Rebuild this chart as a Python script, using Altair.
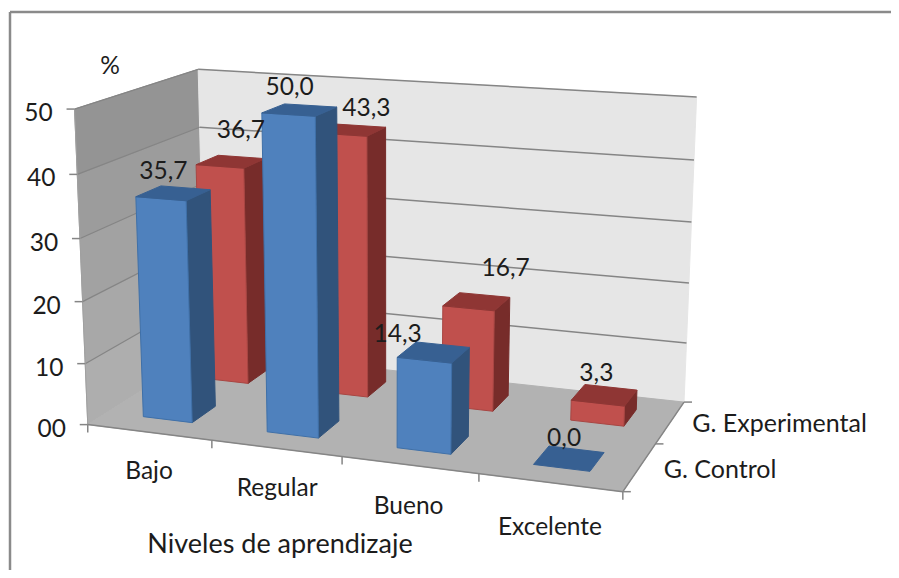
import altair as alt
import numpy as np
import pandas as pd

# ---- chart values -------------------------------------------------------
categories = ["Bajo", "Regular", "Bueno", "Excelente"]
series_names = ["G. Control", "G. Experimental"]
control = [35.7, 50.0, 14.3, 0.0]
experimental = [36.7, 43.3, 16.7, 3.3]
y_ticks = [0, 10, 20, 30, 40, 50]
y_tick_labels = ["00", "10", "20", "30", "40", "50"]
labels_control = ["35,7", "50,0", "14,3", "0,0"]
labels_experimental = ["36,7", "43,3", "16,7", "3,3"]
title = "Niveles de aprendizaje"
unit = "%"

# ---- 3-D camera, calibrated on the plot box (category, depth, value/50) --
CALIB = [
    ((0, 0, 0), (89, 424)), ((1, 0, 0), (212, 440)), ((2, 0, 0), (342, 457)),
    ((3, 0, 0), (478, 474)), ((4, 0, 0), (623, 493)), ((4, 1, 0), (684, 400.5)),
    ((0, 1, 0), (205, 352)), ((0, 0, 1), (75, 109)), ((4, 1, 1), (697, 98)),
    ((0, 1, 1), (198, 69)), ((0, 0, .2), (85, 363)), ((0, 0, .4), (82, 301)),
    ((0, 0, .6), (80, 239)), ((0, 0, .8), (77, 174)), ((4, 1, .2), (687, 342)),
    ((4, 1, .4), (689, 283)), ((4, 1, .6), (691, 222)), ((4, 1, .8), (694, 160)),
]
A, b = [], []
for (X_, Y_, Z_), (u, v) in CALIB:
    A.append([X_, Y_, Z_, 1, 0, 0, 0, 0, -u * X_, -u * Y_, -u * Z_]); b.append(u)
    A.append([0, 0, 0, 0, X_, Y_, Z_, 1, -v * X_, -v * Y_, -v * Z_]); b.append(v)
p = np.linalg.lstsq(np.array(A, float), np.array(b, float), rcond=None)[0]
P = np.append(p, 1).reshape(3, 4)


def proj(x, d, val):
    h = P @ np.array([x, d, val / 50.0, 1.0])
    return float(h[0] / h[2]), float(h[1] / h[2])


BAR_W, BAR_D = 0.4, 0.2
counter = [0]


def add_poly(rows, pts, fill, stroke):
    pid = f"{counter[0]:03d}"
    counter[0] += 1
    for k, (x, y) in enumerate(list(pts) + [pts[0]]):
        rows.append(dict(px=x, py=y, pid=pid, k=k, fill=fill, stroke=stroke))


def add_line(rows, a, b_, color, w):
    lid = f"{counter[0]:03d}"
    counter[0] += 1
    for k, (x, y) in enumerate((a, b_)):
        rows.append(dict(px=x, py=y, lid=lid, k=k, color=color, w=w))


bg_rows, bar_rows, grid_rows, axis_rows = [], [], [], []
WALL, FLOOR, GRID = "#e6e6e6", "#b2b2b2", "#858585"

# left wall in bands, back wall, floor
band_cols = ["#aeaeae", "#a8a8a8", "#a2a2a2", "#9c9c9c", "#949494"]
for i in range(5):
    v0, v1 = y_ticks[i], y_ticks[i + 1]
    add_poly(bg_rows, [proj(0, 0, v0), proj(0, 1, v0), proj(0, 1, v1), proj(0, 0, v1)], band_cols[i], band_cols[i])
add_poly(bg_rows, [proj(0, 1, 0), proj(4, 1, 0), proj(4, 1, 50), proj(0, 1, 50)], WALL, WALL)
add_poly(bg_rows, [proj(0, 0, 0), proj(4, 0, 0), proj(4, 1, 0), proj(0, 1, 0)], FLOOR, FLOOR)

# bars: back row first, so the front row covers it
PALETTE = {
    0: ("#4f81bd", "#31537b", "#376092", "#3f70a8"),
    1: ("#c0504d", "#772c2a", "#8f3634", "#a84643"),
}
for s, vals in [(1, experimental), (0, control)]:
    front, side, top, edge = PALETTE[s]
    d0 = (s + .5) / 2 - BAR_D / 2
    d1 = d0 + BAR_D
    for i, v in enumerate(vals):
        x0, x1 = i + .5 - BAR_W / 2, i + .5 + BAR_W / 2
        if v > 0:
            add_poly(bar_rows, [proj(x1, d0, 0), proj(x1, d1, 0), proj(x1, d1, v), proj(x1, d0, v)], side, side)
            add_poly(bar_rows, [proj(x0, d0, 0), proj(x1, d0, 0), proj(x1, d0, v), proj(x0, d0, v)], front, edge)
        add_poly(bar_rows, [proj(x0, d0, v), proj(x1, d0, v), proj(x1, d1, v), proj(x0, d1, v)], top, top)

# grid lines and axes
for v in y_ticks[1:]:
    add_line(grid_rows, proj(0, 0, v), proj(0, 1, v), GRID, 1.2)
    add_line(grid_rows, proj(0, 1, v), proj(4, 1, v), GRID, 1.5)
add_line(grid_rows, proj(0, 0, 0), proj(0, 0, 50), "#a0a0a0", 1)
add_line(grid_rows, proj(0, 0, 0), proj(4, 0, 0), GRID, 1.5)
add_line(grid_rows, proj(4, 0, 0), proj(4, 1, 0), GRID, 1.5)
for v in y_ticks:
    a = proj(0, 0, v)
    add_line(axis_rows, (a[0] - 8, a[1]), a, GRID, 1.5)
for i in range(5):
    a = proj(i, 0, 0)
    add_line(axis_rows, a, (a[0], a[1] + 8), GRID, 1.5)
for d in (0, .5, 1):
    a = proj(4, d, 0)
    add_line(axis_rows, a, (a[0] + 8, a[1]), GRID, 1.5)
# outer frame: top and left only, as in the source picture
frame_col = "#8a8a8a"
add_line(axis_rows, (10, 12), (899, 12), frame_col, 2.5)
add_line(axis_rows, (10, 12), (10, 578), frame_col, 2.5)

# texts
value_rows = []
nudge_c = [(-10, -21), (-10, -22), (-36, -17), (-5, -19)]
nudge_e = [(10, -31), (15, -21), (29, -33), (-8, -21)]
for s, vals, labs, nud in [(0, control, labels_control, nudge_c), (1, experimental, labels_experimental, nudge_e)]:
    dc = (s + .5) / 2
    for i, v in enumerate(vals):
        x, y = proj(i + .5, dc, v)
        value_rows.append(dict(px=x + nud[i][0], py=y + nud[i][1], t=labs[i]))
for v, lab in zip(y_ticks, y_tick_labels):
    x, y = proj(0, 0, v)
    value_rows.append(dict(px=x - 36, py=y + 5, t=lab))
for i, lab in enumerate(categories):
    x, y = proj(i + .5, 0, 0)
    value_rows.append(dict(px=x + [0, 1, -1, 0][i], py=y + [40, 41, 42, 45][i], t=lab))
value_rows.append(dict(px=110, py=67, t=unit))

df_text = pd.DataFrame(value_rows)
df_title = pd.DataFrame([dict(px=280, py=545, t=title)])
ser_rows = []
for nm, d, off, dy in zip(series_names, (.25, .75), (24, 22), (3, 2)):
    x, y = proj(4, d, 0)
    ser_rows.append(dict(px=x + off, py=y + dy, t=nm))
df_ser = pd.DataFrame(ser_rows)

W, H = 883, 562
sx = alt.Scale(domain=[8, 8 + W], nice=False, zero=False)
sy = alt.Scale(domain=[8, 8 + H], nice=False, zero=False, reverse=True)
X = alt.X("px:Q", scale=sx, axis=None)
Y = alt.Y("py:Q", scale=sy, axis=None)
FONT = "Lato"
TC = "#1c1c1c"


def poly_chart(rows):
    return alt.Chart(pd.DataFrame(rows)).mark_line(strokeWidth=1, strokeJoin="round").encode(
        x=X, y=Y, detail="pid:N", order="k:Q",
        fill=alt.Fill("fill:N", scale=None, legend=None),
        stroke=alt.Stroke("stroke:N", scale=None, legend=None),
    )


def seg_chart(rows):
    return alt.Chart(pd.DataFrame(rows)).mark_line().encode(
        x=X, y=Y, detail="lid:N", order="k:Q",
        stroke=alt.Stroke("color:N", scale=None, legend=None),
        strokeWidth=alt.StrokeWidth("w:Q", scale=None, legend=None),
    )


text_layer = alt.Chart(df_text).mark_text(font=FONT, fontSize=24.5, color=TC, align="center", baseline="middle").encode(
    x=X, y=Y, text="t:N")
title_layer = alt.Chart(df_title).mark_text(font=FONT, fontSize=27, color=TC, align="center", baseline="middle").encode(
    x=X, y=Y, text="t:N")
ser_layer = alt.Chart(df_ser).mark_text(font=FONT, fontSize=25, color=TC, align="left", baseline="middle").encode(
    x=X, y=Y, text="t:N")

chart = (
    alt.layer(poly_chart(bg_rows), seg_chart(grid_rows), poly_chart(bar_rows), seg_chart(axis_rows),
              text_layer, title_layer, ser_layer)
    .properties(width=W, height=H, padding=0, autosize=alt.AutoSizeParams(type="none"), background="white")
    .configure_view(stroke=None)
)
chart.save("out.html", embed_options={"renderer": "svg", "actions": False})
